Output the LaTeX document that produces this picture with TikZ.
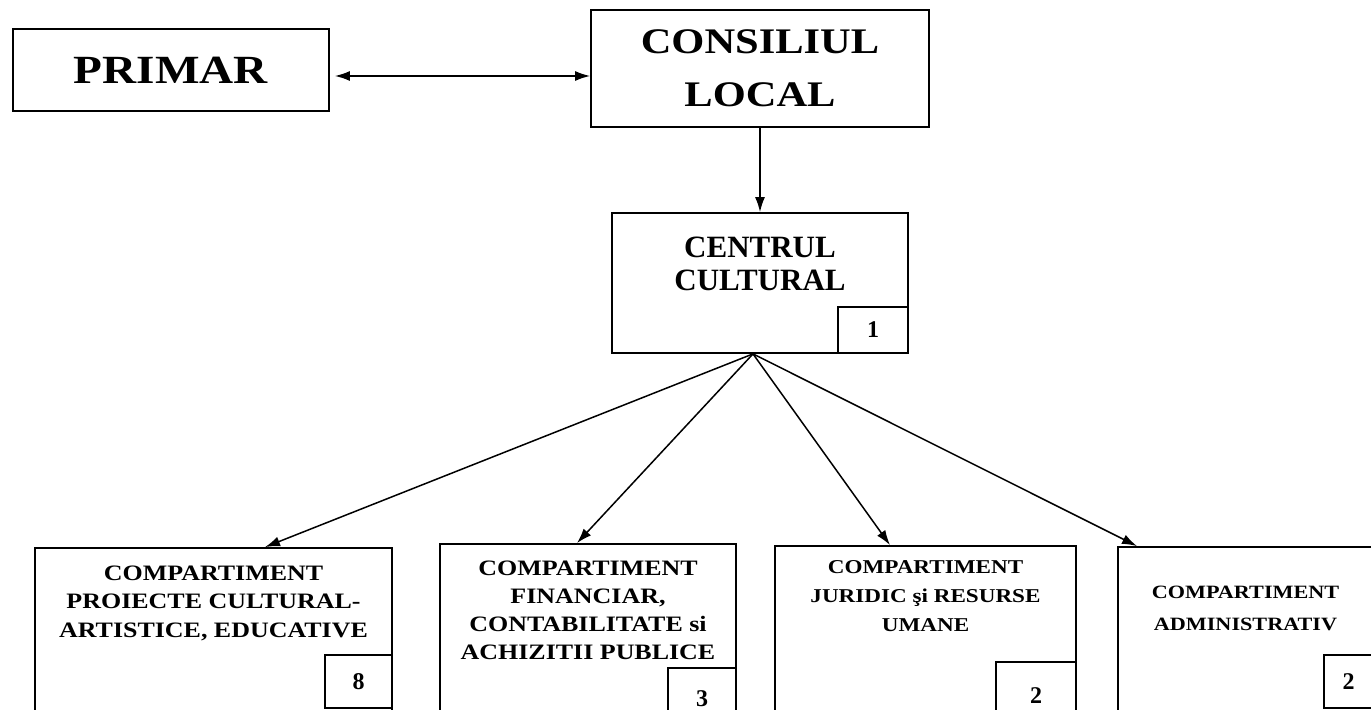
\documentclass[tikz,border=0pt]{standalone}
\usepackage{fontspec}
\setmainfont{Liberation Serif}[FakeStretch=1.18]
\newfontfamily\narrowserif{Liberation Serif}
\usetikzlibrary{positioning, arrows.meta}

\begin{document}
\begin{tikzpicture}
  [
    x              = 0.5pt,
    y              = -0.5pt,
    >              = {Latex[length=7.5pt, width=5pt]},
    box/.style     = {draw, line width=0.9pt, inner sep=0pt},
    numbox/.style  = {draw, line width=0.9pt, inner sep=0pt,
                      font=\narrowserif\bfseries\fontsize{12}{12}\selectfont},
    caption/.style = {inner sep=0pt, align=center},
    link/.style    = {draw, line width=0.75pt, ->}
  ]
  \path [use as bounding box] (0,0) rectangle (1371,710);
  \clip (0,0) rectangle (1371,710);

  % top row
  \node [box, minimum width=158pt, minimum height=41pt,
         font=\bfseries\fontsize{20}{24}\selectfont] (primar) at (171,70) {PRIMAR};
  \node [box, minimum width=169pt, minimum height=58.5pt, align=center,
         font=\bfseries\fontsize{18}{26.5}\selectfont] (consiliu) at (760,68.5) {CONSILIUL\\LOCAL};

  % centrul cultural
  \node [box, minimum width=148pt, minimum height=70pt] (centrul) at (760,283) {};
  \node [caption, below=12pt of centrul.north,
         font=\narrowserif\bfseries\fontsize{15.5}{16.5}\selectfont] (centrul-t) {CENTRUL\\CULTURAL};
  \node [numbox, minimum width=35pt, minimum height=23pt, anchor=south east] (nr-centrul)
        at (centrul.south east) {1};

  % compartimente
  \node [box, minimum width=178.5pt, minimum height=91pt] (comp1) at (213.5,639) {};
  \node [box, minimum width=148pt,   minimum height=93pt] (comp2) at (588,637) {};
  \node [box, minimum width=150.5pt, minimum height=92pt] (comp3) at (925.5,638) {};
  \node [box, minimum width=127.5pt, minimum height=91.5pt] (comp4) at (1245.5,638.5) {};

  \node [caption, below=9pt of comp1.north, font=\bfseries\fontsize{11}{14.25}\selectfont] (comp1-t)
        {COMPARTIMENT\\PROIECTE CULTURAL-\\ARTISTICE, EDUCATIVE};
  \node [caption, below=8.5pt of comp2.north, font=\bfseries\fontsize{11}{14}\selectfont] (comp2-t)
        {COMPARTIMENT\\FINANCIAR,\\CONTABILITATE si\\ACHIZITII PUBLICE};
  \node [caption, below=7.5pt of comp3.north, font=\bfseries\fontsize{9.8}{14.5}\selectfont] (comp3-t)
        {COMPARTIMENT\\JURIDIC şi RESURSE\\UMANE};
  \node [caption, below=20pt of comp4.north, font=\bfseries\fontsize{9.4}{16}\selectfont] (comp4-t)
        {COMPARTIMENT\\ADMINISTRATIV};

  \node [numbox, minimum width=33.5pt, minimum height=26.5pt, anchor=north east] (nr-comp1)
        at ([yshift=-53.5pt]comp1.north east) {8};
  \node [numbox, minimum width=34pt, minimum height=31pt, anchor=north east] (nr-comp2)
        at ([yshift=-62pt]comp2.north east) {3};
  \node [numbox, minimum width=40pt, minimum height=34pt, anchor=north east] (nr-comp3)
        at ([yshift=-58pt]comp3.north east) {2};
  \node [numbox, minimum width=24.5pt, minimum height=26.5pt, anchor=north east] (nr-comp4)
        at ([yshift=-54pt]comp4.north east) {2};

  % legaturi
  \draw [link, <->] ([xshift=2.5pt,yshift=-3pt]primar.east) -- ([yshift=-3pt]primar.east -| consiliu.west);
  \draw [link] (consiliu) -- (centrul);
  \coordinate (fan) at ([xshift=-3.5pt]centrul.south);
  \draw [link] (fan) -- ([xshift=25.75pt]comp1.north);
  \draw [link] (fan) -- ([xshift=-5.5pt]comp2.north);
  \draw [link] (fan) -- ([xshift=-17.75pt]comp3.north);
  \draw [link] (fan) -- ([xshift=-54.25pt]comp4.north);
\end{tikzpicture}
\end{document}
